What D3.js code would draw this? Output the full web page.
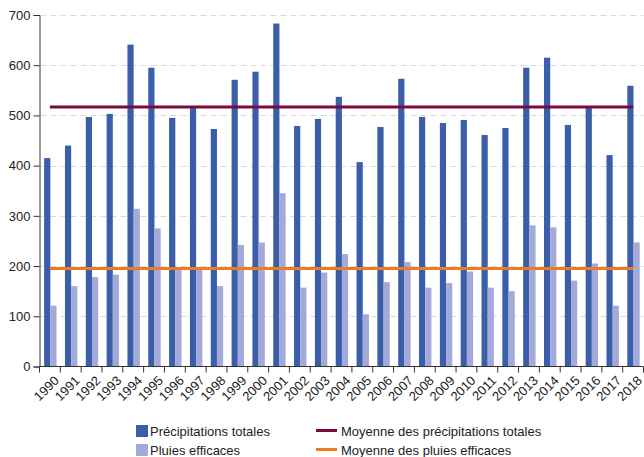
<!DOCTYPE html>
<html>
<head>
<meta charset="utf-8">
<script src="https://cdn.jsdelivr.net/npm/d3@7"></script>
<style>
  body { margin: 0; background: #fff; }
  svg { display: block; font-family: "Liberation Sans", Arial, sans-serif; }
</style>
</head>
<body>
<svg width="644" height="457"></svg>
<script>
/*
Data (mm)
*/
var years = ["1990","1991","1992","1993","1994","1995","1996","1997","1998","1999",
             "2000","2001","2002","2003","2004","2005","2006","2007","2008","2009",
             "2010","2011","2012","2013","2014","2015","2016","2017","2018"];
var precipTotales = [415, 440, 497, 503, 641, 595, 495, 516, 473, 571,
                     587, 683, 479, 493, 537, 407, 477, 573, 497, 485,
                     491, 461, 475, 595, 615, 481, 517, 421, 559];
var pluiesEfficaces = [121, 160, 178, 183, 314, 275, 197, 196, 160, 242,
                       247, 345, 157, 187, 224, 104, 168, 208, 157, 166,
                       189, 157, 150, 281, 277, 171, 205, 121, 247];
var moyennePrecip = 517;
var moyennePluies = 195;
var yTicks = [0, 100, 200, 300, 400, 500, 600, 700];

var colDark = "#3a5ea9", colLight = "#a3a9d8", colMeanP = "#7b0b3d", colMeanE = "#f07a1e";

var svg = d3.select("svg"),
    margin = {top: 15, right: 0.5, bottom: 90.5, left: 39.5},
    width = svg.attr("width") - margin.left - margin.right,
    height = svg.attr("height") - margin.top - margin.bottom,
    g = svg.append("g").attr("transform", "translate(" + margin.left + "," + margin.top + ")");

var xScale = d3.scaleBand().domain(years).range([0, width]).paddingInner(0).paddingOuter(0),
    yScale = d3.scaleLinear().domain([0, 700]).range([height, 0]);

// two bars side by side, about 6px each, centred in the band
var sub = d3.scaleBand().domain(["p", "e"]).range([0, xScale.bandwidth()]).paddingInner(0).paddingOuter(0.68).align(0.55);

/*
Gridlines (dashed)
*/
g.append("g")
    .attr("class", "grid")
    .selectAll("line")
    .data(yTicks.filter(function(d) { return d > 0; }))
    .enter().append("line")
    .attr("x1", 1).attr("x2", width)
    .attr("y1", function(d) { return Math.round(yScale(d)) + 0.5; })
    .attr("y2", function(d) { return Math.round(yScale(d)) + 0.5; })
    .attr("stroke", "#d9d9d9")
    .attr("stroke-width", 1.2)
    .attr("stroke-dasharray", "6 4");

/*
Bars
*/
var year = g.selectAll(".year")
    .data(years)
    .enter().append("g")
    .attr("class", "year")
    .attr("transform", function(d) { return "translate(" + xScale(d) + ",0)"; });

year.append("rect")
    .attr("x", sub("p"))
    .attr("width", sub.bandwidth())
    .attr("y", function(d, i) { return yScale(precipTotales[i]); })
    .attr("height", function(d, i) { return height - yScale(precipTotales[i]); })
    .attr("fill", colDark);

year.append("rect")
    .attr("x", sub("e"))
    .attr("width", sub.bandwidth())
    .attr("y", function(d, i) { return yScale(pluiesEfficaces[i]); })
    .attr("height", function(d, i) { return height - yScale(pluiesEfficaces[i]); })
    .attr("fill", colLight);

/*
Mean lines, from first to last category centre
*/
var line = d3.line()
    .x(function(d) { return xScale(d.year) + xScale.bandwidth() / 2; })
    .y(function(d) { return yScale(d.v); });

g.append("path")
    .datum(years.map(function(y) { return {year: y, v: moyennePrecip}; }))
    .attr("d", line)
    .attr("fill", "none")
    .attr("stroke", colMeanP)
    .attr("stroke-width", 3);

g.append("path")
    .datum(years.map(function(y) { return {year: y, v: moyennePluies}; }))
    .attr("d", line)
    .attr("fill", "none")
    .attr("stroke", colMeanE)
    .attr("stroke-width", 3);

/*
Axes
*/
var yAxis = g.append("g")
    .attr("class", "axis axis--y")
    .call(d3.axisLeft(yScale).tickValues(yTicks).tickSize(6).tickPadding(3));
yAxis.select(".domain").attr("stroke", "#333");
yAxis.selectAll(".tick line").attr("stroke", "#333");
yAxis.selectAll("text").style("font-size", "13px").attr("fill", "#222");

var xAxis = g.append("g")
    .attr("class", "axis axis--x")
    .attr("transform", "translate(0," + height + ")");
xAxis.append("line")
    .attr("x1", 0).attr("x2", width)
    .attr("stroke", "#333");
xAxis.selectAll(".tk")
    .data(years.concat(["end"]))
    .enter().append("line")
    .attr("x1", function(d, i) { return i * xScale.step(); })
    .attr("x2", function(d, i) { return i * xScale.step(); })
    .attr("y1", 0).attr("y2", 6)
    .attr("stroke", "#333");
xAxis.selectAll("text")
    .data(years)
    .enter().append("text")
    .attr("transform", function(d) {
        return "translate(" + (xScale(d) + xScale.bandwidth() / 2 + 3) + ",8)rotate(-45)";
    })
    .attr("text-anchor", "end")
    .attr("dy", "0.75em")
    .style("font-size", "13px")
    .attr("fill", "#222")
    .text(function(d) { return d; });

/*
Legend
*/
var legend = svg.append("g").attr("class", "legend").style("font-size", "13px").attr("fill", "#222");
var barItems = [{label: "Précipitations totales", color: colDark}, {label: "Pluies efficaces", color: colLight}];
var lineItems = [{label: "Moyenne des précipitations totales", color: colMeanP}, {label: "Moyenne des pluies efficaces", color: colMeanE}];

barItems.forEach(function(d, i) {
    legend.append("rect")
        .attr("x", 136).attr("y", 425 + i * 19)
        .attr("width", 12).attr("height", 12)
        .attr("fill", d.color);
    legend.append("text")
        .attr("x", 150).attr("y", 436 + i * 19)
        .text(d.label);
});
lineItems.forEach(function(d, i) {
    legend.append("line")
        .attr("x1", 316).attr("x2", 337)
        .attr("y1", 430.5 + i * 19).attr("y2", 430.5 + i * 19)
        .attr("stroke", d.color)
        .attr("stroke-width", 3);
    legend.append("text")
        .attr("x", 341).attr("y", 436 + i * 19)
        .text(d.label);
});
</script>
</body>
</html>
